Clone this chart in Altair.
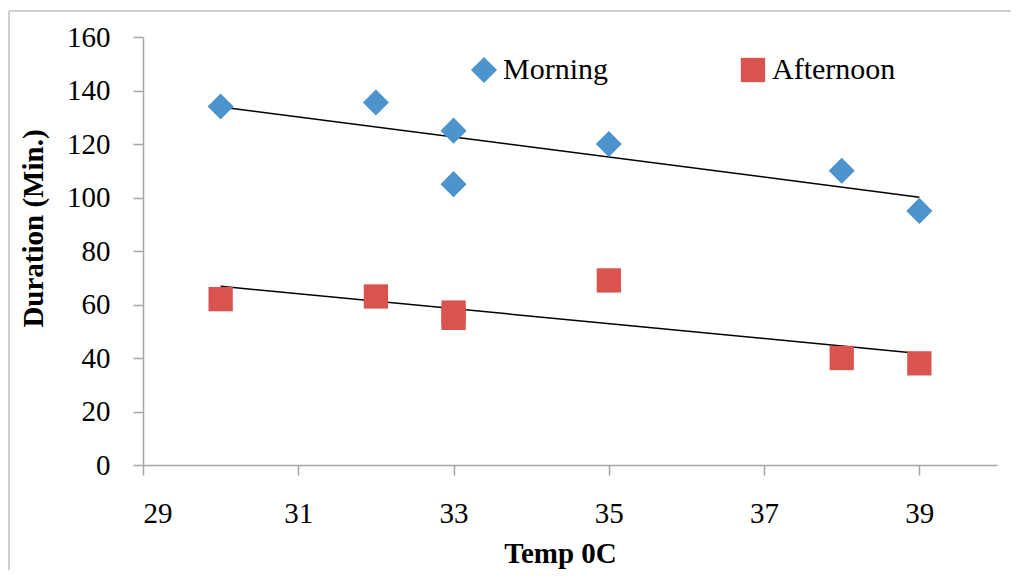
import altair as alt
import pandas as pd

temps = [30, 32, 33, 33, 35, 38, 39]
morning = [134, 135.5, 125, 105, 120, 110, 95]
afternoon = [62, 63, 57, 55, 69, 40, 38]
series_names = ["Morning", "Afternoon"]
x_ticks = [29, 31, 33, 35, 37, 39]
y_ticks = [0, 20, 40, 60, 80, 100, 120, 140, 160]

rows = []
for t, v in zip(temps, morning):
    rows.append({"Temp": t, "Duration": v, "Series": "Morning"})
for t, v in zip(temps, afternoon):
    rows.append({"Temp": t, "Duration": v, "Series": "Afternoon"})
df = pd.DataFrame(rows)

FONT = "Liberation Serif"
AXC = "#A6A6A6"

x_enc = alt.X(
    "Temp:Q",
    scale=alt.Scale(domain=[29, 40], nice=False, zero=False),
    axis=alt.Axis(
        values=x_ticks, format="d", title="Temp 0C", grid=False,
        titleX=417, titleY=88, titleAlign="center", titleBaseline="middle",
        labelPadding=24,
    ),
)
y_enc = alt.Y(
    "Duration:Q",
    scale=alt.Scale(domain=[0, 160], nice=False),
    axis=alt.Axis(
        values=y_ticks, format="d", title="Duration (Min.)", grid=False,
        titleX=-110, titleY=191, titleAngle=270, titleAlign="center",
        titleBaseline="middle", labelPadding=23,
    ),
)

base = alt.Chart(df)

points = base.mark_point(filled=True, opacity=1).encode(
    x=x_enc,
    y=y_enc,
    color=alt.Color(
        "Series:N",
        scale=alt.Scale(domain=series_names, range=["#4D94CC", "#D9534F"]),
        legend=alt.Legend(
            title=None, orient="none", legendX=326, legendY=18,
            direction="horizontal", columnPadding=130, labelOffset=4,
            symbolSize=420, labelFont=FONT, labelFontSize=30,
            labelColor="black", padding=0, symbolStrokeWidth=0,
        ),
    ),
    shape=alt.Shape(
        "Series:N",
        scale=alt.Scale(domain=series_names, range=["diamond", "square"]),
        legend=None,
    ),
    size=alt.Size(
        "Series:N",
        scale=alt.Scale(domain=series_names, range=[680, 590]),
        legend=None,
    ),
)

trend = base.transform_regression(
    "Temp", "Duration", groupby=["Series"]
).mark_line(color="black", strokeWidth=1.5).encode(
    x="Temp:Q", y="Duration:Q", detail="Series:N"
)

frame_src = alt.Chart(pd.DataFrame({"k": [0]}))
frame_top = frame_src.mark_rule(color="#BFBFBF", strokeWidth=1.5).encode(
    x=alt.value(-134), x2=alt.value(2000), y=alt.value(-26)
)
frame_left = frame_src.mark_rule(color="#BFBFBF", strokeWidth=1.5).encode(
    x=alt.value(-134), y=alt.value(-26), y2=alt.value(2000)
)

chart = alt.layer(frame_top, frame_left, trend, points).properties(
    width=854, height=428,
    autosize=alt.AutoSizeParams(type="none"),
    padding={"left": 135, "top": 29, "right": 14, "bottom": 105},
).configure_view(strokeWidth=0).configure_axis(
    domainColor=AXC, domainWidth=1.5, tickColor=AXC, tickWidth=1.5,
    tickSize=10, labelFont=FONT, labelFontSize=29, labelColor="black",
    titleFont=FONT, titleFontSize=29, titleFontWeight="bold",
    titleColor="black",
)

chart.save("out.html", embed_options={"renderer": "svg", "actions": False})
